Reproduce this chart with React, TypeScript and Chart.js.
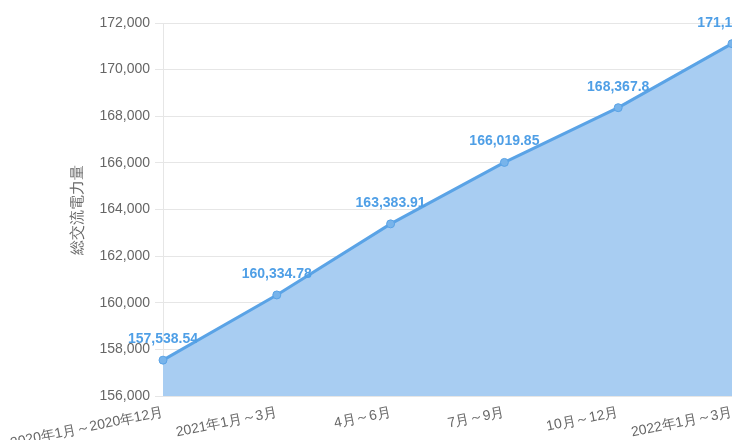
import React, { useEffect, useRef } from "react";
import { Chart, registerables } from "chart.js";

Chart.register(...registerables);

const categories = [
  "2020年1月～2020年12月",
  "2021年1月～3月",
  "4月～6月",
  "7月～9月",
  "10月～12月",
  "2022年1月～3月",
];
const values = [157538.54, 160334.78, 163383.91, 166019.85, 168367.8, 171113.48];
const yTitle = "総交流電力量";
const yMin = 156000;
const yMax = 172000;
const yStep = 2000;

const LINE = "#5aa3e6";
const FILL = "rgba(168,205,242,1)";
const LABEL = "#4f9fe6";

const dataLabelPlugin = {
  id: "dataLabels",
  afterDatasetsDraw(chart: any) {
    const ctx = chart.ctx;
    const meta = chart.getDatasetMeta(0);
    ctx.save();
    ctx.font = "bold 14px 'Helvetica Neue', Helvetica, Arial, sans-serif";
    ctx.fillStyle = LABEL;
    ctx.textAlign = "center";
    ctx.textBaseline = "middle";
    meta.data.forEach((pt: any, i: number) => {
      const v = values[i];
      const txt = v.toLocaleString("en-US", { maximumFractionDigits: 2 });
      ctx.fillText(txt, pt.x, pt.y - 21);
    });
    ctx.restore();
  },
};

export default function App() {
  const ref = useRef<HTMLCanvasElement>(null);
  useEffect(() => {
    document.body.style.overflow = "hidden";
    const chart = new Chart(ref.current!, {
      type: "line",
      data: {
        labels: categories,
        datasets: [
          {
            data: values,
            borderColor: LINE,
            backgroundColor: FILL,
            fill: "start",
            borderWidth: 3,
            pointRadius: 4,
            pointBackgroundColor: "rgba(120,180,235,1)",
            pointBorderColor: LINE,
            pointBorderWidth: 1,
            tension: 0,
          },
        ],
      },
      options: {
        animation: false,
        responsive: false,
        maintainAspectRatio: false,
        layout: { padding: { left: 57, right: 16, top: 15, bottom: 0 } },
        plugins: {
          legend: { display: false },
          tooltip: { enabled: false },
        },
        scales: {
          x: {
            grid: { display: false, drawTicks: true },
            border: { display: false },
            afterFit: (s: any) => {
              s.height = 52;
            },
            ticks: {
              color: "#666",
              font: { size: 14 },
              maxRotation: 50,
              autoSkip: false,
              padding: 0,
            },
          },
          y: {
            min: yMin,
            max: yMax,
            afterFit: (s: any) => {
              s.width = 98;
            },
            grid: { color: "#e6e6e6", tickLength: 8 },
            border: { color: "#e6e6e6" },
            ticks: {
              stepSize: yStep,
              color: "#666",
              font: { size: 14 },
              padding: 5,
              callback: (v: any) => Number(v).toLocaleString("en-US"),
            },
            title: {
              display: true,
              text: yTitle,
              color: "#666",
              font: { size: 15 },
              padding: { top: 4, bottom: 6 },
            },
          },
        },
      },
      plugins: [dataLabelPlugin],
    });
    return () => chart.destroy();
  }, []);
  return (
    <div style={{ width: 740, height: 440 }}>
      <canvas ref={ref} width={740} height={440} />
    </div>
  );
}
